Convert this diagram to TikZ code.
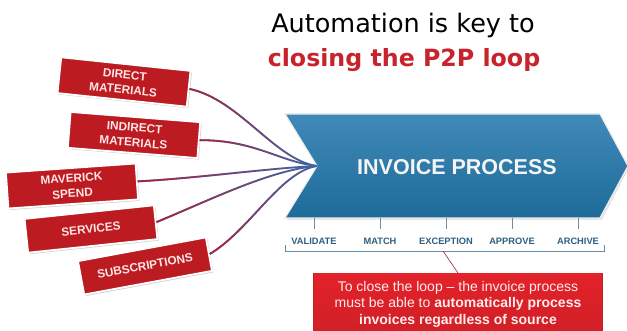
\documentclass[tikz,border=0pt]{standalone}
\usepackage{fontspec}
\setmainfont{Liberation Sans}
\newfontfamily\titlefont{DejaVu Sans}
\usetikzlibrary{shadows,fadings}
\definecolor{boxred}{HTML}{BC1B21}
\definecolor{notered}{HTML}{E3222A}
\definecolor{procblue}{HTML}{2A7DB0}
\definecolor{procdark}{HTML}{1E6A98}
\definecolor{steptext}{HTML}{2E5F80}
\definecolor{tickgray}{HTML}{6A8EA8}
\definecolor{titlered}{HTML}{C8232B}
\definecolor{linkred}{HTML}{A8243E}
\definecolor{linkblue}{HTML}{3D66A8}
\tikzset{
  srcbox/.style={draw=white, line width=1.8pt, fill=boxred, text=white!90!red,
    minimum width=130pt, minimum height=36pt, align=center, inner sep=2pt,
    font=\fontsize{11.8}{15.2}\selectfont\bfseries,
    drop shadow={opacity=0.35, shadow xshift=1.5pt, shadow yshift=-1.5pt}},
  steplabel/.style={text=steptext, font=\fontsize{9.3}{10}\selectfont\bfseries, inner sep=0pt},
  tickline/.style={draw=tickgray, line width=0.6pt},
  linkbase/.style={draw=linkblue, line width=1.8pt},
  linkover/.style={draw=linkred, line width=1.8pt, path fading=east},
}
\begin{document}
\begin{tikzpicture}[x=1pt,y=-1pt]
\useasboundingbox (0,0) rectangle (627,331);

% heading
\node[font=\titlefont\fontsize{25.5}{28}\selectfont, anchor=base, inner sep=0pt] (t1) at (403,33) {Automation is key to};
\node[font=\titlefont\fontsize{23.7}{26}\selectfont\bfseries, text=titlered, anchor=base, inner sep=0pt] (t2) at (404,67) {closing the P2P loop};

% process chevron
\fill[gray!40, opacity=0.5] (287,116) -- (602,116) -- (629,168) -- (602,220) -- (287,220) -- (319,168) -- cycle;
\shade[top color=procblue!90!white, bottom color=procdark, draw=white!85!gray, line width=1.2pt]
  (285,114) -- (600,114) -- (628,166) -- (600,218) -- (285,218) -- (317,166) -- cycle;
\coordinate (notch) at (317,166);
\node[text=white!92!gray, font=\fontsize{21.5}{24}\selectfont\bfseries] (proc) at (457,167) {INVOICE PROCESS};

% process steps
\foreach \x/\lab/\nm in {314/VALIDATE/s1, 380/MATCH/s2, 446/EXCEPTION/s3, 512/APPROVE/s4, 578/ARCHIVE/s5}{
  \coordinate (\nm top) at (\x,218);
  \coordinate (\nm bot) at (\x,229);
  \draw[tickline] (\nm top) -- (\nm bot);
  \node[steplabel] (\nm) at (\x,241.5) {\lab};
}
\coordinate (brL) at (285,245);
\coordinate (brR) at (604,245);
\coordinate (brC) at (443,251);
\draw[tickline] (brL) -- (285,251) -- (604,251) -- (brR);

% note box
\fill[notered!85!black] (313,273) rectangle (603,333);
\shade[top color=notered, bottom color=notered!92!black] (314,274) rectangle (602,333);
\node[text=white!93!red, align=center, font=\fontsize{14}{16.5}\selectfont, inner sep=0pt] (note) at (458,304)
  {To close the loop -- the invoice process\\
   must be able to \textbf{automatically process}\\
   \textbf{invoices regardless of source}};
\coordinate (notetop) at (458,273);
\draw[draw=linkred!70!gray, line width=0.7pt] (brC) -- (notetop);

% sources
\node[srcbox, rotate=-6] (d1) at (124,82) {DIRECT\\MATERIALS};
\node[srcbox, rotate=-4.5] (d2) at (134,135) {INDIRECT\\MATERIALS};
\node[srcbox, rotate=4] (d3) at (72,186) {MAVERICK\\SPEND};
\node[srcbox, rotate=6, minimum height=34pt] (d4) at (91,229) {SERVICES};
\node[srcbox, rotate=10.5, minimum height=34pt] (d5) at (145,266) {SUBSCRIPTIONS};

% links from sources to the process
\foreach \n/\ca/\cb in {d1/{(240,100)}/{(275,160)}, d2/{(255,140)}/{(280,162)}, d3/{(200,178)}/{(270,168)}, d4/{(210,200)}/{(270,170)}, d5/{(250,230)}/{(280,172)}}{
  \draw[linkbase] (\n.east) .. controls \ca and \cb .. (notch);
  \draw[linkover] (\n.east) .. controls \ca and \cb .. (notch);
}
\end{tikzpicture}
\end{document}
